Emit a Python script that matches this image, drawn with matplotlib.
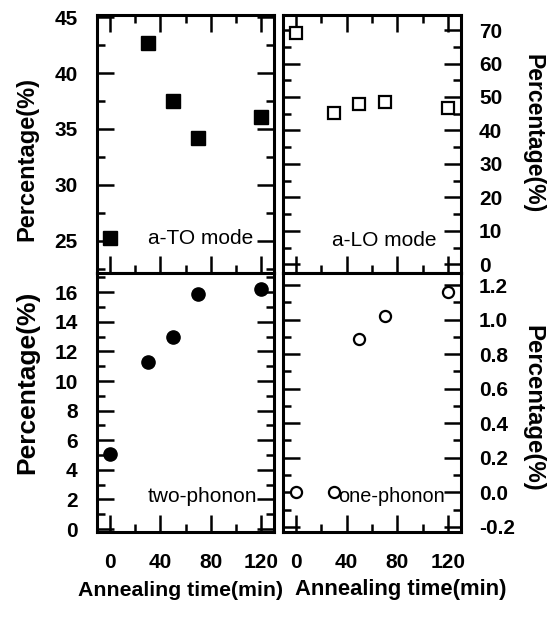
import numpy as np
import matplotlib
matplotlib.use('Agg')
import matplotlib.pyplot as plt
from matplotlib.ticker import MultipleLocator

plt.rcParams['font.family'] = ['Liberation Sans', 'DejaVu Sans']

# data
t_to = [0, 30, 50, 70, 120]
to_pct = [25.2, 42.7, 37.5, 34.2, 36.1]
t_lo = [0, 30, 50, 70, 120]
lo_pct = [69.0, 45.3, 47.9, 48.5, 46.8]
t_two = [0, 30, 50, 70, 120]
two_pct = [5.1, 11.3, 13.0, 15.9, 16.2]
t_one = [0, 30, 50, 70, 120]
one_pct = [0.0, 0.0, 0.89, 1.02, 1.16]

W, H = 552, 618
fig = plt.figure(figsize=(W/100, H/100), dpi=100)

def box(x0, y0, x1, y1):
    return [x0/W, 1 - y1/H, (x1 - x0)/W, (y1 - y0)/H]

def ftext(x, y, s, **kw):
    # place text by pixel position in the figure
    fig.text(x/W, 1 - y/H, s, **kw)

ax_to = fig.add_axes(box(97, 15, 274, 273))
ax_lo = fig.add_axes(box(283, 15, 461, 273))
ax_two = fig.add_axes(box(97, 273, 274, 532))
ax_one = fig.add_axes(box(283, 273, 461, 532))

def style(ax, top, right_labels):
    for s in ax.spines.values():
        s.set_linewidth(2.2)
    ax.set_xlim(-10, 130)
    ax.xaxis.set_major_locator(MultipleLocator(40))
    ax.xaxis.set_minor_locator(MultipleLocator(20))
    ax.tick_params(which='both', direction='in', width=1.8, left=True, right=True,
                   top=top, bottom=True, labelsize=15)
    ax.tick_params(which='major', length=12)
    ax.tick_params(which='minor', length=5.5)
    ax.tick_params(axis='y', pad=14)
    ax.tick_params(axis='x', pad=15)
    if right_labels:
        ax.tick_params(axis='y', labelleft=False, labelright=True, pad=13)
    if top:
        ax.tick_params(axis='x', labelbottom=False)
    for lb in ax.get_xticklabels() + ax.get_yticklabels():
        lb.set_fontweight('bold')

ax_to.plot(t_to, to_pct, 's', color='black', ms=9.5, clip_on=False, zorder=3)
ax_to.set_ylim(22.1, 45.2)
ax_to.yaxis.set_major_locator(MultipleLocator(5))
ax_to.yaxis.set_minor_locator(MultipleLocator(2.5))
style(ax_to, True, False)

ax_lo.plot(t_lo, lo_pct, 's', mfc='white', mec='black', mew=1.6, ms=8, clip_on=False, zorder=3)
ax_lo.set_ylim(-2.6, 74.5)
ax_lo.yaxis.set_major_locator(MultipleLocator(10))
ax_lo.yaxis.set_minor_locator(MultipleLocator(5))
style(ax_lo, True, True)

ax_two.plot(t_two, two_pct, 'o', color='black', ms=9.5, clip_on=False, zorder=3)
ax_two.set_ylim(-0.2, 17.3)
ax_two.yaxis.set_major_locator(MultipleLocator(2))
ax_two.yaxis.set_minor_locator(MultipleLocator(1))
style(ax_two, False, False)

ax_one.plot(t_one, one_pct, 'o', mfc='white', mec='black', mew=1.6, ms=8, clip_on=False, zorder=3)
ax_one.set_ylim(-0.23, 1.27)
ax_one.yaxis.set_minor_locator(MultipleLocator(0.1))
style(ax_one, False, True)
one_ticks = np.arange(-0.2, 1.21, 0.2)
ax_one.set_yticks(one_ticks)
ax_one.set_yticklabels(['%.1f' % v for v in one_ticks], fontweight='bold')

# axis titles
ftext(27, 159, 'Percentage(%)', rotation=90, ha='center', va='center', fontsize=17, fontweight='bold')
ftext(27, 382, 'Percentage(%)', rotation=90, ha='center', va='center', fontsize=19, fontweight='bold')
ftext(533, 134, 'Percentage(%)', rotation=-90, ha='center', va='center', fontsize=16.6, fontweight='bold')
ftext(533, 408, 'Percentage(%)', rotation=-90, ha='center', va='center', fontsize=17.3, fontweight='bold')
ftext(181, 590, 'Annealing time(min)', ha='center', va='center', fontsize=15.3, fontweight='bold')
ftext(401, 590, 'Annealing time(min)', ha='center', va='center', fontsize=15.8, fontweight='bold')

# panel captions
ftext(253, 239, 'a-TO mode', ha='right', va='center', fontsize=15)
ftext(437, 240, 'a-LO mode', ha='right', va='center', fontsize=15)
ftext(257, 497, 'two-phonon', ha='right', va='center', fontsize=15)
ftext(445, 496, 'one-phonon', ha='right', va='center', fontsize=14.3)

fig.savefig('out.png', dpi=100)
